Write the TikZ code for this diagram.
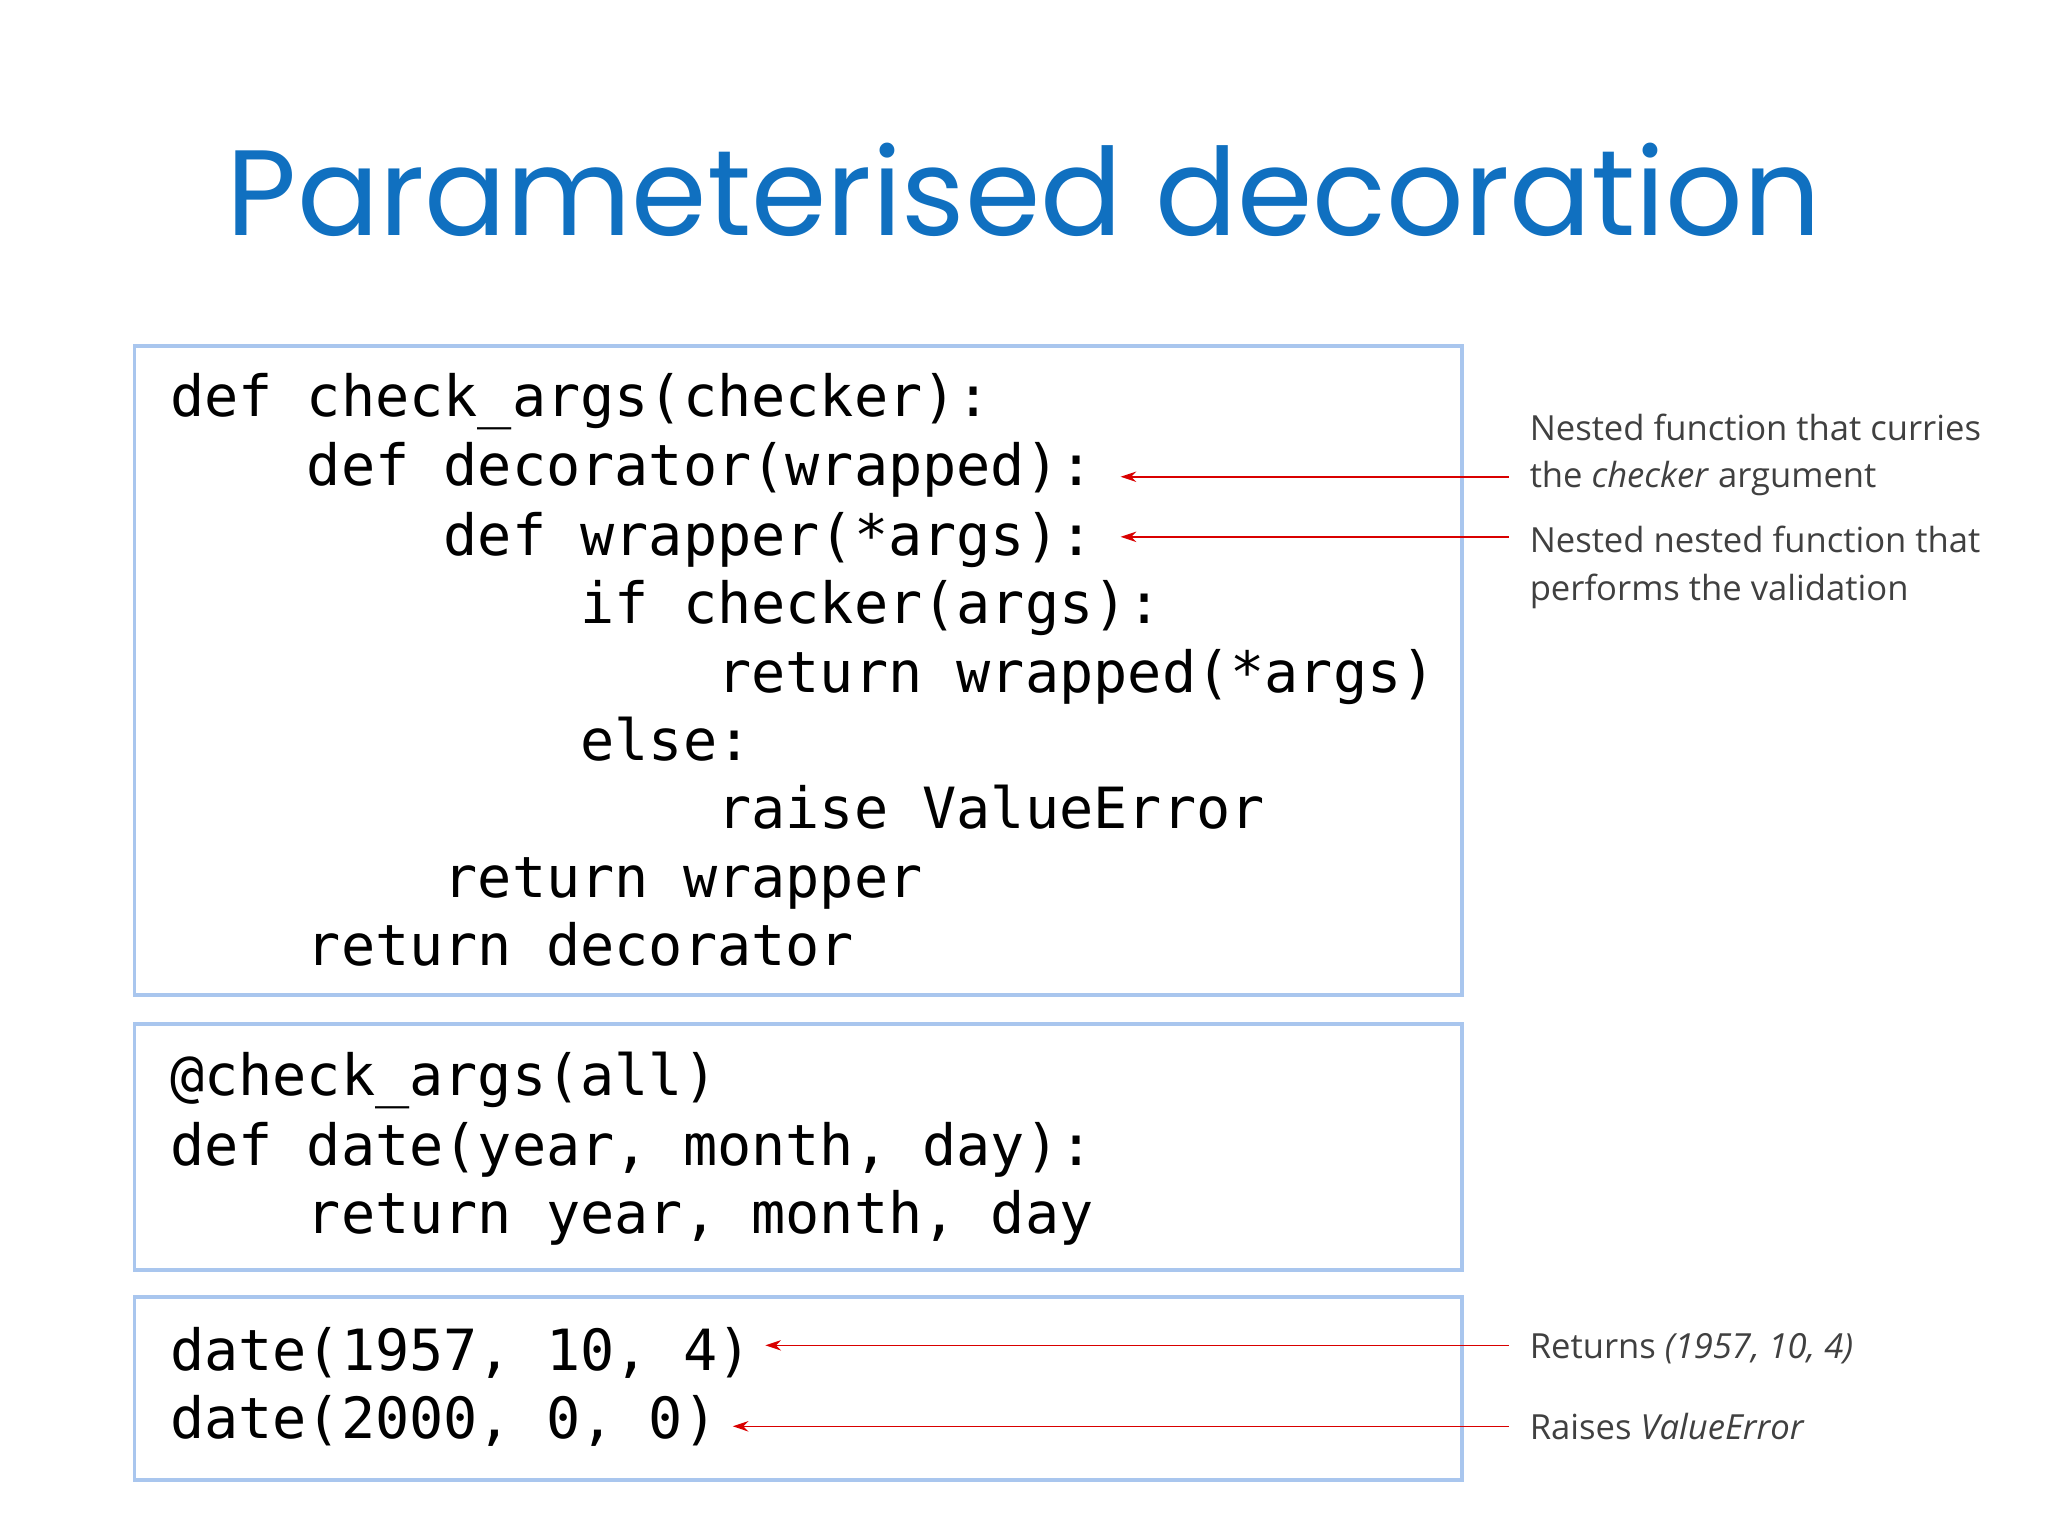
\documentclass[tikz,border=0pt]{standalone}
\usepackage{fontspec}
\setmainfont{Open Sans}
\newfontfamily\titlefont{Poppins}
\newfontfamily\codefont{DejaVu Sans Mono}
\usetikzlibrary{arrows.meta}
\definecolor{titleblue}{HTML}{1070C0}
\definecolor{boxedge}{HTML}{A9C6EE}
\definecolor{notegray}{HTML}{404040}
\begin{document}
\begin{tikzpicture}[x=1pt,y=-1pt,
  codebox/.style={draw=boxedge,line width=3pt,fill=white},
  code/.style={anchor=base west,inner sep=0,font=\codefont\fontsize{43.5}{50}\selectfont},
  note/.style={anchor=base west,inner sep=0,text=notegray,font=\fontsize{26.5}{30}\selectfont},
  ptr/.style={draw=red!85!black,line width=1.2pt,-{Stealth[length=12pt,width=8pt]}}]
\useasboundingbox[fill=white] (0,0) rectangle (1568,1176);
\node[anchor=base,text=titleblue,font=\titlefont\fontsize{93}{110}\selectfont,inner sep=0] (title) at (784,180) {Parameterised decoration};
\draw[codebox] (103,265) rectangle (1119,762);
\draw[codebox] (103,784) rectangle (1119,972);
\draw[codebox] (103,993) rectangle (1119,1133);
\node[code] (l1) at (130,319) {def check\_args(checker):};
\node[code] (l2) at (130,372) {\phantom{xxxx}def decorator(wrapped):};
\node[code] (l3) at (130,425) {\phantom{xxxxxxxx}def wrapper(*args):};
\node[code] (l4) at (130,477) {\phantom{xxxxxxxxxxxx}if checker(args):};
\node[code] (l5) at (130,530) {\phantom{xxxxxxxxxxxxxxxx}return wrapped(*args)};
\node[code] (l6) at (130,582) {\phantom{xxxxxxxxxxxx}else:};
\node[code] (l7) at (130,634) {\phantom{xxxxxxxxxxxxxxxx}raise ValueError};
\node[code] (l8) at (130,687) {\phantom{xxxxxxxx}return wrapper};
\node[code] (l9) at (130,739) {\phantom{xxxx}return decorator};
\node[code] (m1) at (130,839) {@check\_args(all)};
\node[code] (m2) at (130,892) {def date(year, month, day):};
\node[code] (m3) at (130,944) {\phantom{xxxx}return year, month, day};
\node[code] (n1) at (130,1049) {date(1957, 10, 4)};
\node[code] (n2) at (130,1101) {date(2000, 0, 0)};
\node[note] (t1) at (1171,337) {Nested function that curries};
\node[note] (t2) at (1171,373) {the \textit{checker} argument};
\node[note] (t3) at (1171,423) {Nested nested function that};
\node[note] (t4) at (1171,460) {performs the validation};
\node[note] (t5) at (1171,1040) {Returns \textit{(1957, 10, 4)}};
\node[note] (t6) at (1171,1102) {Raises \textit{ValueError}};
\coordinate (s1) at (1155,365); \coordinate (e1) at (858,365);
\coordinate (s2) at (1155,411); \coordinate (e2) at (858,411);
\coordinate (s3) at (1155,1030); \coordinate (e3) at (586,1030);
\coordinate (s4) at (1155,1092); \coordinate (e4) at (561,1092);
\draw[ptr] (s1) -- (e1);
\draw[ptr] (s2) -- (e2);
\draw[ptr] (s3) -- (e3);
\draw[ptr] (s4) -- (e4);
\end{tikzpicture}
\end{document}
